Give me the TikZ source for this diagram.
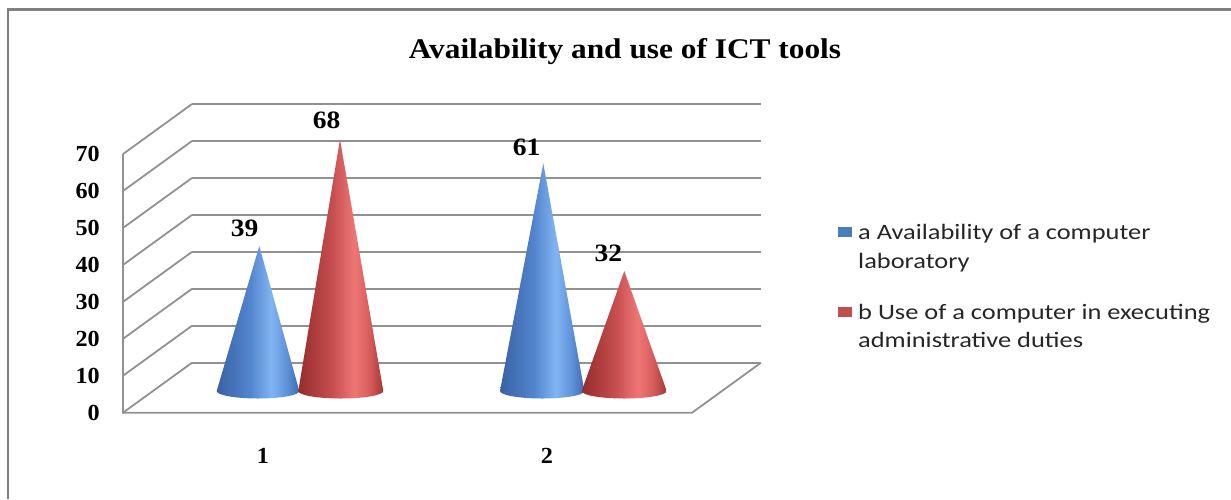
\documentclass[tikz,border=0pt]{standalone}
\usepackage{fontspec}
\newfontfamily\tnrb[FakeStretch=1.1]{Liberation Serif Bold}
\newfontfamily\tnrbn[FakeStretch=1.05]{Liberation Serif Bold}
\newfontfamily\legfont[FakeStretch=1.2]{Carlito}
\definecolor{gridgray}{RGB}{145,145,145}
\definecolor{framegray}{RGB}{128,128,128}
\definecolor{legblue}{RGB}{74,126,187}
\definecolor{legred}{RGB}{192,80,77}
\definecolor{bA}{RGB}{58,98,165}
\definecolor{bB}{RGB}{82,132,205}
\definecolor{bC}{RGB}{128,180,242}
\definecolor{bD}{RGB}{96,148,218}
\definecolor{bE}{RGB}{62,106,178}
\definecolor{rA}{RGB}{150,44,44}
\definecolor{rB}{RGB}{198,78,78}
\definecolor{rC}{RGB}{240,118,118}
\definecolor{rD}{RGB}{214,92,92}
\definecolor{rE}{RGB}{164,54,54}
\pgfdeclarehorizontalshading{bluecone}{100bp}{color(0bp)=(bA); color(25bp)=(bA); color(45bp)=(bB); color(58bp)=(bC); color(67bp)=(bD); color(75bp)=(bE); color(100bp)=(bE)}
\pgfdeclarehorizontalshading{redcone}{100bp}{color(0bp)=(rA); color(25bp)=(rA); color(45bp)=(rB); color(58bp)=(rC); color(67bp)=(rD); color(75bp)=(rE); color(100bp)=(rE)}
\tikzset{
  gridline/.style={draw=gridgray, line width=1.8pt},
  framebox/.style={draw=framegray, line width=2.2pt},
  axislabel/.style={font=\tnrbn\fontsize{23}{26}\selectfont, anchor=east, inner sep=0pt},
  catlabel/.style={font=\tnrbn\fontsize{23}{26}\selectfont, anchor=base, inner sep=0pt},
  vallabel/.style={font=\tnrb\fontsize{25}{28}\selectfont, anchor=base, inner sep=0pt},
  titlelabel/.style={font=\tnrb\fontsize{28.5}{32}\selectfont, anchor=base, inner sep=0pt},
  legtext/.style={font=\legfont\fontsize{22}{26}\selectfont, anchor=base west, inner sep=0pt, text=black!85},
  legkey/.style={minimum width=14pt, minimum height=10pt, inner sep=0pt, draw=none},
  bluec/.style={shading=bluecone},
  redc/.style={shading=redcone}
}
\begin{document}
\begin{tikzpicture}[x=1pt,y=-1pt]
\useasboundingbox (0,0) rectangle (1231,499);
% outer frame
\coordinate (fbl) at (8.3,499);
\coordinate (ftl) at (8.3,9.5);
\coordinate (ftr) at (1231,9.5);
\draw[framebox] (fbl) -- (ftl) -- (ftr);
% title
\node[titlelabel] (title) at (625,58.3) {Availability and use of ICT tools};
% axes / grid
\foreach \k in {0,...,7}{
  \coordinate (f\k) at (123,412.7-36.95*\k);
  \coordinate (b\k) at (192,362.7-36.95*\k);
  \coordinate (r\k) at (761,362.7-36.95*\k);
  \draw[gridline] (f\k) -- (b\k);
  \draw[gridline] (b\k) -- (r\k);
  \pgfmathtruncatemacro{\val}{10*\k}
  \node[axislabel] (ax\k) at (100,412.7-36.95*\k) {\val};
}
\coordinate (ffr) at (692,412.7);
\draw[gridline] (f7) -- (f0) -- (ffr) -- (r0);
% cones
\path[bluec] (259.3,246) -- (216.7,391) arc[start angle=180,end angle=360,x radius=41.3pt,y radius=7.5pt] -- cycle;
\path[redc] (340,139.3) -- (298.3,391) arc[start angle=180,end angle=360,x radius=42.5pt,y radius=7.5pt] -- cycle;
\path[bluec] (543.3,163.3) -- (500,391) arc[start angle=180,end angle=360,x radius=42.2pt,y radius=7.5pt] -- cycle;
\path[redc] (624.3,271) -- (581.7,391) arc[start angle=180,end angle=360,x radius=42.5pt,y radius=7.5pt] -- cycle;
% value labels
\node[vallabel] (v39) at (244.7,236.7) {39};
\node[vallabel] (v68) at (326.7,128.3) {68};
\node[vallabel] (v61) at (526.7,155) {61};
\node[vallabel] (v32) at (608.3,261.7) {32};
% category labels
\node[catlabel] (c1) at (263,463) {1};
\node[catlabel] (c2) at (547,463) {2};
% legend
\node[legkey, fill=legblue] (ka) at (844.5,231.7) {};
\node[legkey, fill=legred] (kb) at (844.5,311.7) {};
\node[legtext] (la1) at (858,239.3) {a Availability of a computer};
\node[legtext] (la2) at (858,268.5) {laboratory};
\node[legtext] (lb1) at (858,319) {b Use of a computer in executing};
\node[legtext] (lb2) at (858,347.5) {administrative duties};
\end{tikzpicture}
\end{document}
